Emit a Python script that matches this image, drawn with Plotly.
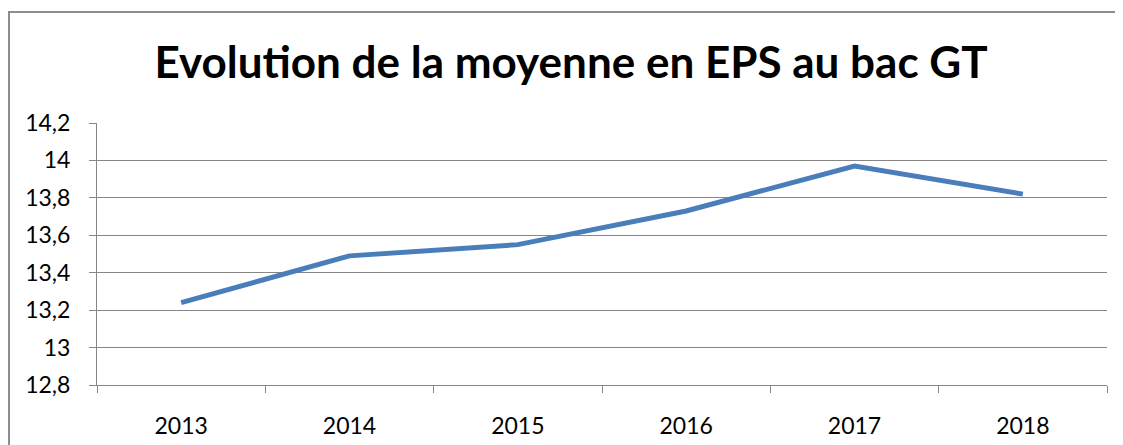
import plotly.graph_objects as go

years = ["2013", "2014", "2015", "2016", "2017", "2018"]
moyenne = [13.24, 13.49, 13.55, 13.73, 13.97, 13.82]
title_text = "Evolution de la moyenne en EPS au bac GT"

fig = go.Figure()
fig.add_trace(go.Scatter(
    x=years, y=moyenne, mode="lines",
    line=dict(color="#4A7EBB", width=5),
    hoverinfo="x+y", showlegend=False,
))

# page body has an 8px margin: figure starts at (8, 8) in the window
OFF = 8
W, H = 1123 - OFF, 445 - OFF
L, R, T, B = 97 - OFF, 16, 123 - OFF, 60
pw, ph = W - L - R, H - T - B

def px_to_paper_x(px):
    return (px - OFF - L) / pw

def px_to_paper_y(py):
    return (H - B - (py - OFF)) / ph

fig.update_layout(
    width=W, height=H,
    margin=dict(l=L, r=R, t=T, b=B, pad=0, autoexpand=False),
    paper_bgcolor="white", plot_bgcolor="white",
    separators=", ",
    font=dict(family="Lato, Carlito, sans-serif", color="#000000", size=23),
    title=dict(
        text="<b>" + title_text + "</b>",
        font=dict(family="Lato, Carlito, sans-serif", size=44, color="#000000"),
        x=(571 - OFF) / W, xref="container", xanchor="center",
        y=1 - (63 - OFF) / H, yref="container", yanchor="middle",
        automargin=False,
    ),
    xaxis=dict(
        type="category",
        tickson="boundaries",
        ticks="outside", ticklen=7, tickcolor="#868686", tickwidth=1,
        showline=True, linecolor="#868686", linewidth=1,
        showgrid=False, zeroline=False,
        tickfont=dict(size=23),
        range=[-0.5, 5.5],
        ticklabelstandoff=20,
        automargin=False,
    ),
    yaxis=dict(
        range=[12.8, 14.2], dtick=0.2, tick0=12.8,
        ticks="outside", ticklen=7, tickcolor="#868686", tickwidth=1,
        showline=True, linecolor="#868686", linewidth=1,
        showgrid=True, gridcolor="#868686", gridwidth=1,
        zeroline=False,
        tickfont=dict(size=23),
        ticklabelstandoff=14,
        automargin=False,
    ),
    shapes=[dict(
        type="rect", xref="paper", yref="paper",
        x0=px_to_paper_x(9), x1=px_to_paper_x(1123 + 20),
        y0=px_to_paper_y(445 + 20), y1=px_to_paper_y(12),
        line=dict(color="#8c8c8c", width=2),
        fillcolor="rgba(0,0,0,0)", layer="below",
    )],
)

fig.write_html("out.html")
